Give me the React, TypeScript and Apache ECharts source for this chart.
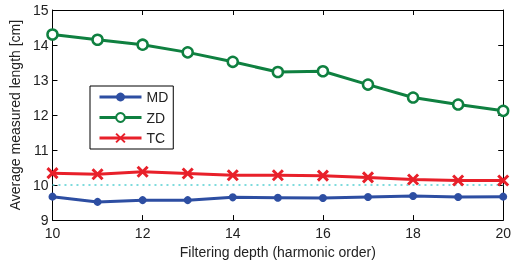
import React, { useEffect, useRef } from "react";
import * as echarts from "echarts";

const depths = [10, 11, 12, 13, 14, 15, 16, 17, 18, 19, 20];
const mdValues = [9.67, 9.52, 9.57, 9.57, 9.65, 9.64, 9.63, 9.66, 9.69, 9.66, 9.67];
const zdValues = [14.3, 14.15, 14.01, 13.79, 13.52, 13.23, 13.25, 12.87, 12.5, 12.3, 12.12];
const tcValues = [10.34, 10.31, 10.38, 10.33, 10.28, 10.28, 10.27, 10.22, 10.16, 10.13, 10.13];
const refLine = [10, 10];

const FONT = "Liberation Sans, Arial, sans-serif";

export default function App() {
  const ref = useRef<HTMLDivElement>(null);
  useEffect(() => {
    const chart = echarts.init(ref.current!, null, { renderer: "svg" });
    const pair = (vals: number[]) => depths.map((d, i) => [d, vals[i]]);
    const axisCommon = {
      axisLine: { show: true, lineStyle: { color: "#000", width: 1 } },
      axisTick: { show: true, inside: true, length: 5, lineStyle: { color: "#000" } },
      splitLine: { show: false },
    };
    chart.setOption({
      animation: false,
      grid: { left: 50, right: 8, top: 10, bottom: 40 },
      legend: {
        show: true,
        orient: "vertical",
        left: 90,
        top: 86,
        data: ["MD", "ZD", "TC"],
        itemWidth: 42,
        itemHeight: 11,
        itemGap: 6.5,
        padding: [4, 5, 4, 8],
        borderColor: "#000",
        borderWidth: 1,
        borderRadius: 0,
        backgroundColor: "#fff",
        lineStyle: { width: 3 },
        textStyle: { fontFamily: FONT, fontSize: 14, color: "#222", lineHeight: 14 },
      },
      xAxis: [
        {
          type: "value",
          min: 10,
          max: 20,
          interval: 2,
          ...axisCommon,
          axisLabel: { fontFamily: FONT, fontSize: 14, color: "#222", margin: 6 },
          name: "Filtering depth (harmonic order)",
          nameLocation: "middle",
          nameGap: 23,
          nameTextStyle: { fontFamily: FONT, fontSize: 14, color: "#222" },
        },
        {
          type: "value",
          position: "top",
          min: 10,
          max: 20,
          interval: 2,
          ...axisCommon,
          axisLabel: { show: false },
        },
      ],
      yAxis: [
        {
          type: "value",
          min: 9,
          max: 15,
          interval: 1,
          ...axisCommon,
          axisLabel: { fontFamily: FONT, fontSize: 14, color: "#222", margin: 4 },
          name: "Average measured length [cm]",
          nameLocation: "middle",
          nameGap: 23,
          nameTextStyle: { fontFamily: FONT, fontSize: 14, color: "#222" },
        },
        {
          type: "value",
          position: "right",
          min: 9,
          max: 15,
          interval: 1,
          ...axisCommon,
          axisLabel: { show: false },
        },
      ],
      series: [
        {
          name: "MD",
          type: "line",
          data: pair(mdValues),
          symbol: "circle",
          symbolSize: 8,
          showAllSymbol: true,
          itemStyle: { color: "#2d4ea2" },
          lineStyle: { color: "#2d4ea2", width: 3, type: "solid" },
          z: 3,
        },
        {
          name: "ZD",
          type: "line",
          data: pair(zdValues),
          symbol: "circle",
          symbolSize: 10,
          showAllSymbol: true,
          itemStyle: { color: "#ffffff", borderColor: "#0f8040", borderWidth: 2.5 },
          lineStyle: { color: "#0f8040", width: 3, type: "solid" },
          z: 3,
        },
        {
          name: "TC",
          type: "line",
          data: pair(tcValues),
          symbol: "path://M0,0L10,10M10,0L0,10",
          symbolSize: 10,
          showAllSymbol: true,
          itemStyle: { color: "#e8202a", borderColor: "#e8202a", borderWidth: 3 },
          lineStyle: { color: "#e8202a", width: 3, type: "solid" },
          z: 3,
        },
        {
          name: "ref",
          type: "line",
          data: [[10, refLine[0]], [20, refLine[1]]],
          symbol: "none",
          lineStyle: { color: "#55cfd2", width: 1.5, type: [2, 4] },
          silent: true,
          z: 1,
        },
      ],
    });
    return () => chart.dispose();
  }, []);
  return (
    <div
      ref={ref}
      style={{ position: "fixed", left: 0, top: 0, width: 514, height: 264 }}
    />
  );
}
